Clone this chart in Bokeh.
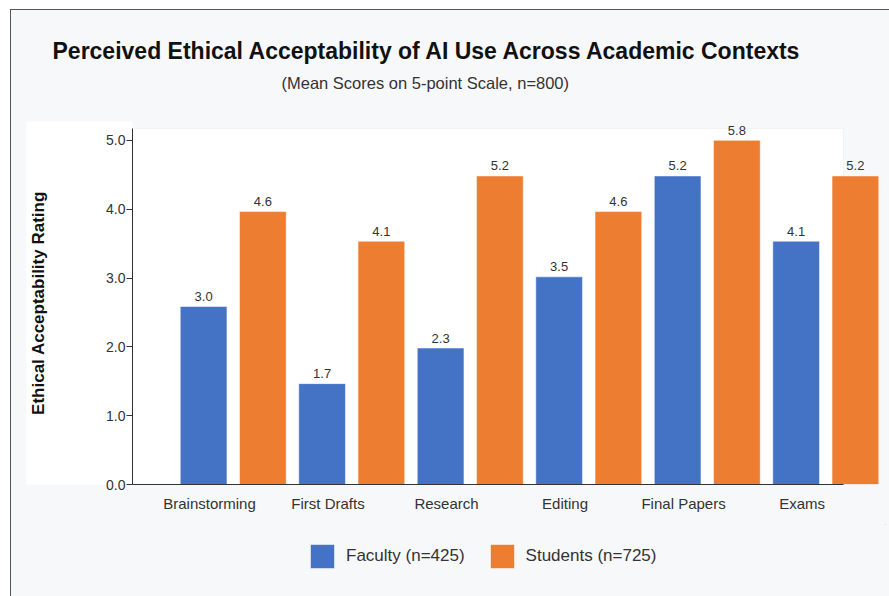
from bokeh.plotting import figure
from bokeh.layouts import column
from bokeh.models import (ColumnDataSource, FixedTicker, Range1d, Legend, LegendItem,
                          LabelSet, Title, BoxAnnotation)
from bokeh.core.properties import value
from bokeh.transform import dodge
from bokeh.embed import file_html
from bokeh.resources import INLINE

# ---------------- data ----------------
categories = ["Brainstorming", "First Drafts", "Research", "Editing", "Final Papers", "Exams"]
faculty = [3.0, 1.7, 2.3, 3.5, 5.2, 4.1]
students = [4.6, 4.1, 5.2, 4.6, 5.8, 5.2]
series_names = ["Faculty (n=425)", "Students (n=725)"]
y_tick_labels = ["0.0", "1.0", "2.0", "3.0", "4.0", "5.0"]

title_text = "Perceived Ethical Acceptability of AI Use Across Academic Contexts"
subtitle_text = "(Mean Scores on 5-point Scale, n=800)"
y_label = "Ethical Acceptability Rating"

# ---------------- style ----------------
BG = "#f7f8fa"
FONT = "Liberation Sans"
BLUE = "#4472C4"
ORANGE = "#ED7D31"
TXT = "#333333"

src = ColumnDataSource(dict(
    idx=list(range(len(categories))),
    faculty=faculty,
    students=students,
    flab=[f"{v:.1f}" for v in faculty],
    slab=[f"{v:.1f}" for v in students],
))

p = figure(frame_width=753, frame_height=363,
           x_range=Range1d(0, 6.354), y_range=Range1d(0, 6.118),
           output_backend="svg", toolbar_location=None,
           min_border_left=121, min_border_right=4, min_border_top=111, min_border_bottom=40,
           background_fill_color=BG, border_fill_color=BG, outline_line_color=None)

p.xgrid.visible = False
p.ygrid.visible = False

# white chart panel behind the bars
p.add_layout(BoxAnnotation(left=0, right=6.0, bottom=0, top=6.0,
                           fill_color="white", fill_alpha=1.0,
                           line_color="#dddddd", line_width=1, level="underlay"))

BW = 0.394
r1 = p.vbar(x=dodge("idx", 0.6), top="faculty", width=BW, bottom=0, source=src,
            fill_color=BLUE, line_color="white", line_alpha=0.5, line_width=1)
r2 = p.vbar(x=dodge("idx", 1.1), top="students", width=BW, bottom=0, source=src,
            fill_color=ORANGE, line_color="white", line_alpha=0.5, line_width=1)

for col, top, off in (("flab", "faculty", 0.6), ("slab", "students", 1.1)):
    lbl = LabelSet(x=dodge("idx", off), y=top, text=col, source=src,
                   text_align="center", text_baseline="bottom", y_offset=5.5,
                   text_font=value(FONT), text_font_size=value("13px"), text_color=TXT)
    p.add_layout(lbl)

# y axis
yax = p.yaxis[0]
y_ticks = [round(i * 1.16, 2) for i in range(len(y_tick_labels))]
yax.ticker = FixedTicker(ticks=y_ticks)
yax.major_label_overrides = {t: l for t, l in zip(y_ticks, y_tick_labels)}
yax.bounds = (0, 6.0)
yax.axis_line_color = TXT
yax.major_tick_line_color = TXT
yax.major_tick_out = 6
yax.major_tick_in = 0
yax.minor_tick_line_color = None
yax.major_label_standoff = 1
yax.major_label_text_font = FONT
yax.major_label_text_font_size = "14px"
yax.major_label_text_color = TXT
yax.axis_label = y_label
yax.axis_label_text_font = FONT
yax.axis_label_text_font_size = "17px"
yax.axis_label_text_font_style = "bold"
yax.axis_label_text_color = "#111111"
yax.axis_label_standoff = 55
if "background_fill_color" in yax.properties():
    yax.background_fill_color = "white"

# x axis
xax = p.xaxis[0]
x_ticks = [round(i + 0.65, 2) for i in range(len(categories))]
xax.ticker = FixedTicker(ticks=x_ticks)
xax.major_label_overrides = {t: c for t, c in zip(x_ticks, categories)}
xax.bounds = (0, 6.0)
xax.axis_line_color = TXT
xax.major_tick_line_color = None
xax.major_tick_out = 0
xax.major_tick_in = 0
xax.minor_tick_line_color = None
xax.major_label_standoff = 10
xax.major_label_text_font = FONT
xax.major_label_text_font_size = "15px"
xax.major_label_text_color = TXT

# titles: a blank spacer line next to the chart, then subtitle, then main title
p.add_layout(Title(text=" ", align="left", text_font=FONT, text_font_size="16.5px",
                   text_color=BG, standoff=7.6, offset=0), "above")
p.add_layout(Title(text=subtitle_text, align="left", text_font=FONT, text_font_size="16.5px",
                   text_font_style="normal", text_color=TXT, standoff=4, offset=149), "above")
p.add_layout(Title(text=title_text, align="left", text_font=FONT, text_font_size="23px",
                   text_font_style="bold", text_color="#111111", standoff=12, offset=-80), "above")

# legend strip below the chart (proxy bars lie far outside its visible ranges)
lf = figure(width=878, height=72, x_range=Range1d(-20, -19), y_range=Range1d(-20, -19),
            output_backend="svg", toolbar_location=None,
            x_axis_location=None, y_axis_location=None, min_border=0,
            background_fill_color=BG, border_fill_color=BG, outline_line_color=None)
lf.xgrid.visible = False
lf.ygrid.visible = False
k1 = lf.vbar(x=dodge("idx", 0.6), top="faculty", width=BW, bottom=0, source=src,
             fill_color=BLUE, line_color="white", line_alpha=0.5, line_width=1)
k2 = lf.vbar(x=dodge("idx", 1.1), top="students", width=BW, bottom=0, source=src,
             fill_color=ORANGE, line_color="white", line_alpha=0.5, line_width=1)
legend = Legend(items=[LegendItem(label=series_names[0], renderers=[k1]),
                       LegendItem(label=series_names[1], renderers=[k2])],
                orientation="horizontal", location=(175, 25),
                glyph_width=30, glyph_height=30, label_standoff=9, spacing=22,
                padding=0, margin=0, border_line_color=None, background_fill_alpha=0,
                label_text_font=FONT, label_text_font_size="17px", label_text_color=TXT)
lf.add_layout(legend)

page = column(p, lf, spacing=0, margin=(9, 0, 0, 10),
              styles={"border-top": "1px solid #555555", "border-left": "1px solid #555555",
                      "background-color": BG})

open("out.html", "w").write(file_html(page, INLINE))
